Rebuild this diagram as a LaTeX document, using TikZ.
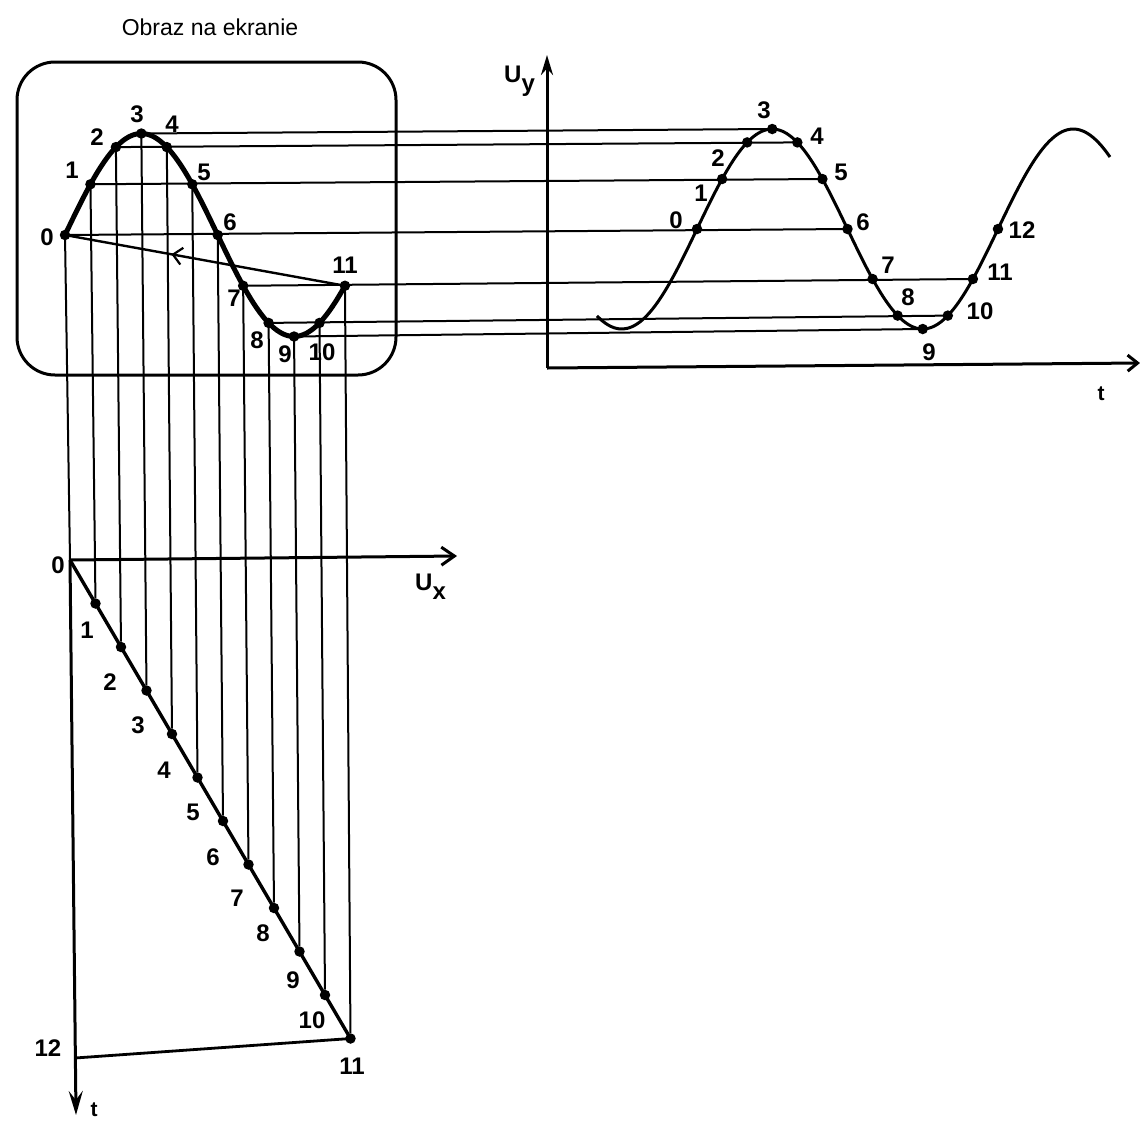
\documentclass[tikz,border=0pt]{standalone}
\usepackage{fontspec}
\setmainfont{Liberation Sans}
\usetikzlibrary{arrows.meta,decorations.markings}
\begin{document}
\begin{tikzpicture}[x=1pt,y=-1pt,
  dot/.style={circle,fill=black,inner sep=0pt,minimum size=10.5pt},
  lbl/.style={font=\fontsize{24}{24}\selectfont\bfseries,inner sep=0pt},
  proj/.style={line width=2pt},
  axis/.style={line width=3pt},
  ]
\useasboundingbox (0,0) rectangle (1140,1120);
% screen box and title
\node[draw,line width=3pt,rounded corners=38pt,minimum width=379pt,minimum height=313pt,inner sep=0pt] (screen) at (206.5,218.5) {};
\node[font=\fontsize{23}{23}\selectfont,inner sep=0pt] (title) at (210,27) {Obraz na ekranie};
% points
\foreach \k in {0,...,11} \node[dot] (s\k) at ({65+25.45*\k},{235-101.5*sin(30*\k)}) {};
\foreach \k in {0,...,12} \node[dot] (r\k) at ({697+25.08*\k},{229-100*sin(30*\k)}) {};
\coordinate (p0) at (70,560);
\foreach \k in {1,...,11} \node[dot] (p\k) at ({70+25.5*\k},{560+43.5*\k}) {};
% projection lines
\foreach \k in {0,...,11} \draw[proj] (s\k.center) -- (p\k);
\foreach \a/\b in {3/3,2/4,1/5,0/6,7/11,8/10,9/9} \draw[proj] (s\a.center) -- (r\b.center);
% screen curve
\draw[line width=5pt,line join=round] plot[domain=0:330,samples=67,smooth] ({65+25.45*\x/30},{235-101.5*sin(\x)});
% retrace
\draw[line width=2.4pt,postaction=decorate,decoration={markings,mark=at position 0.62 with {\arrow{Straight Barb[length=9pt,width=17pt,line width=2.2pt]}}}] (s11.center) -- (s0.center);
% right graph
\coordinate (yo) at (547,368);
\coordinate (ytop) at (547,55);
\coordinate (tend) at (1140,363);
\draw[axis,-{Stealth[length=20pt,width=12pt]}] (yo) -- (ytop);
\draw[axis,-{Straight Barb[length=10pt,width=16pt]}] (yo) -- (tend);
\draw[line width=3pt] plot[domain=-100:413,samples=120,smooth] ({697+\x},{229-100*sin(\x*1.196)});
% bottom sweep
\coordinate (ux) at (457,556);
\coordinate (tb) at (76,1115);
\coordinate (q12) at (75,1058);
\draw[axis,-{Straight Barb[length=13pt,width=18pt]}] (p0) -- (ux);
\draw[axis,-{Stealth[length=24pt,width=14pt,inset=9pt]}] (p0) -- (tb);
\draw[line width=3.4pt] (p0) -- (p11.center);
\draw[line width=2.8pt] (p11.center) -- (q12);
% labels screen
\foreach \t/\x/\y in {0/47/237,1/72/170,2/97/137,3/137/114,4/172/124,5/204/172,6/230/222,7/234/298,8/257/340,9/285/354,10/322/352,11/345/265}
  \node[lbl] (ls\t) at (\x,\y) {\t};
% labels right
\foreach \t/\x/\y in {0/676/220,1/701/193,2/718/158,3/764/110,4/817/136,5/841/172,6/863/222,7/888/265,8/908/297,9/929/352,10/980/311,11/1000/272,12/1022/230}
  \node[lbl] (lr\t) at (\x,\y) {\t};
% labels ramp
\foreach \t/\x/\y in {0/58/565,1/87/630,2/110/682,3/138/725,4/164/770,5/193/812,6/213/857,7/237/898,8/263/933,9/293/980,10/312/1020,11/352/1066,12/48/1048}
  \node[lbl] (lp\t) at (\x,\y) {\t};
% axis labels
\node[lbl,anchor=base west] (uy) at (504,82) {U\raisebox{-9pt}{y}};
\node[lbl,anchor=base west] (uxl) at (415,590) {U\raisebox{-9pt}{x}};
\node[lbl,font=\fontsize{21}{21}\selectfont\bfseries] (tr) at (1101,394) {t};
\node[lbl,font=\fontsize{21}{21}\selectfont\bfseries] (tbl) at (94,1110) {t};
\end{tikzpicture}
\end{document}
